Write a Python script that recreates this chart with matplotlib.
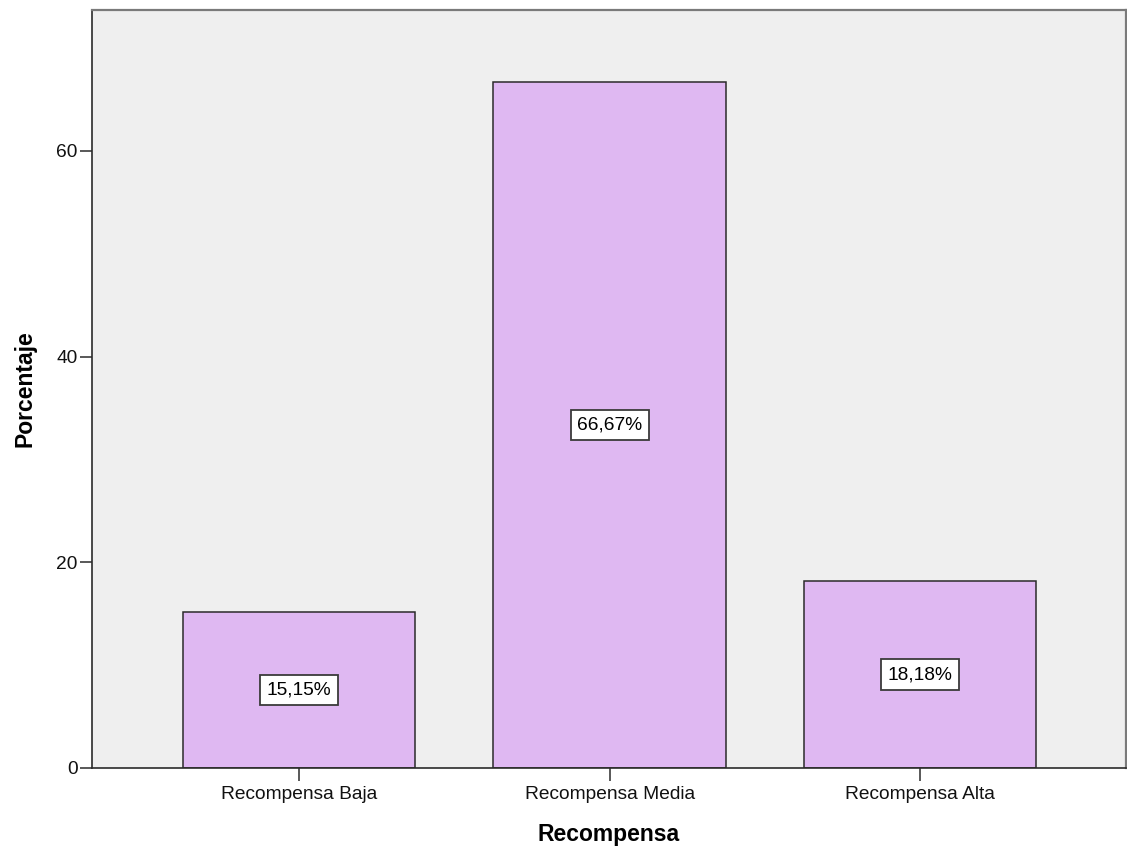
import matplotlib
matplotlib.use("Agg")
import matplotlib.pyplot as plt
import numpy as np

categories = ["Recompensa Baja", "Recompensa Media", "Recompensa Alta"]
percentages = [15.15, 66.67, 18.18]
y_ticks = [0, 20, 40, 60]

plt.rcParams["font.family"] = ["Liberation Sans", "DejaVu Sans"]

fig = plt.figure(figsize=(11.27, 8.52), dpi=100)
ax = fig.add_axes([92 / 1127, 84 / 852, 1034 / 1127, 758 / 852])
ax.set_facecolor("#efefef")

x = np.arange(len(categories))
bars = ax.bar(x, percentages, width=0.749, color="#dfb8f2",
              edgecolor="#2b2b2b", linewidth=1.1, zorder=2)

# percentage label in a white box at half bar height
for rect, val in zip(bars, percentages):
    label = f"{val:.2f}".replace(".", ",") + "%"
    ax.text(rect.get_x() + rect.get_width() / 2, val / 2, label,
            ha="center", va="center", fontsize=13.8, color="black", zorder=3,
            bbox=dict(boxstyle="square,pad=0.34", facecolor="white",
                      edgecolor="#3a3a3a", linewidth=1.3))

ax.set_xlim(-0.667, 2.663)
ax.set_ylim(0, 73.7)
ax.set_xticks(x)
ax.set_xticklabels(categories)
ax.set_yticks(y_ticks)
ax.tick_params(axis="both", labelsize=13.8, length=9, width=1.1,
               color="#2b2b2b", labelcolor="#111111")
ax.tick_params(axis="y", pad=1.5)
ax.tick_params(axis="x", pad=4)

for side in ("left", "bottom"):
    ax.spines[side].set_color("#2b2b2b")
    ax.spines[side].set_linewidth(1.2)
for side in ("top", "right"):
    ax.spines[side].set_color("#7a7a7a")
    ax.spines[side].set_linewidth(1.6)

ax.set_xlabel("Recompensa", fontsize=16.5, fontweight="bold", labelpad=14)
ax.set_ylabel("Porcentaje", fontsize=16.5, fontweight="bold", labelpad=14)

fig.savefig("out.png", dpi=100)
